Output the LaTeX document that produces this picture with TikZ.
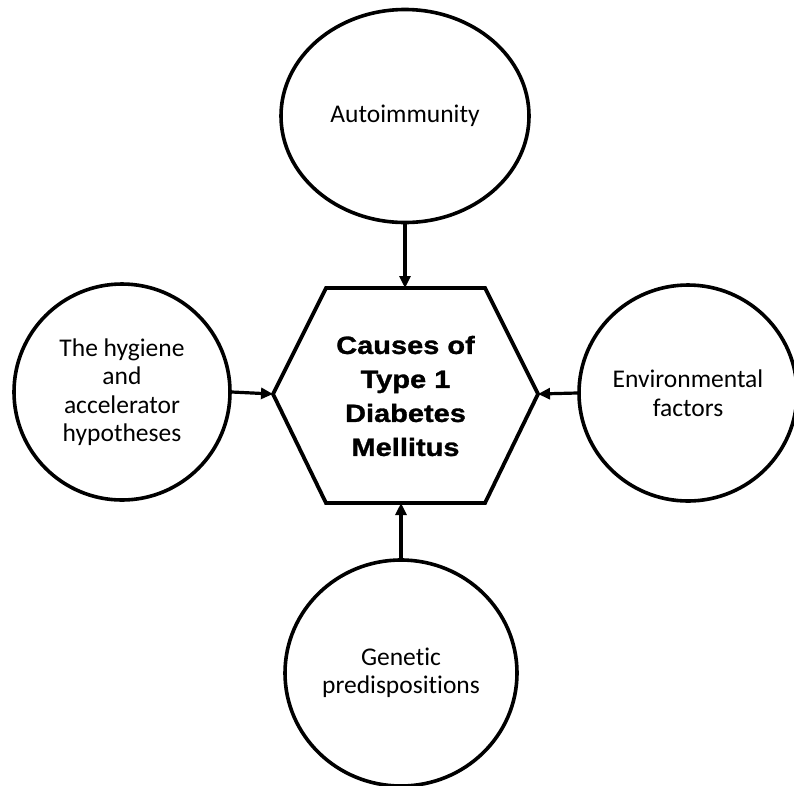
\documentclass[tikz,border=0pt]{standalone}
\usepackage{fontspec}
\setmainfont[Ligatures=NoCommon]{Carlito}
\newfontfamily\headfont[FakeStretch=1.16, FakeBold=1.2]{Liberation Sans Bold}
\usetikzlibrary{shapes.geometric,arrows.meta}

\tikzset{
  cause/.style={draw=black, line width=3.6pt, ellipse, inner sep=0pt,
    align=center, font=\fontsize{25.5}{28.5}\selectfont},
  link/.style={line width=3.2pt, -{Triangle[length=12pt,width=11pt]}},
  hexline/.style={draw=black, line width=3.8pt, line join=miter},
}

\begin{document}
\begin{tikzpicture}[x=1pt, y=-1pt]
  \useasboundingbox (0,0) rectangle (794,785);

  % central hexagon
  \coordinate (hexTL) at (326,288);
  \coordinate (hexTR) at (485,288);
  \coordinate (hexR)  at (538,394);
  \coordinate (hexBR) at (485,503);
  \coordinate (hexBL) at (326,503);
  \coordinate (hexL)  at (273,394);
  \coordinate (hexT)  at (405,288);
  \coordinate (hexB)  at (401,503);
  \draw[hexline] (hexTL) -- (hexTR) -- (hexR) -- (hexBR) -- (hexBL) -- (hexL) -- cycle;
  \node[align=center, font=\headfont\fontsize{25}{34}\selectfont] (hex) at (405.5,396)
    {Causes of\\Type 1\\Diabetes\\Mellitus};

  % surrounding causes
  \node[cause, minimum width=248pt, minimum height=213pt] (auto) at (405,116) {Autoimmunity};
  \node[cause, minimum width=216pt, minimum height=216pt] (hyg) at (122,392)
    {The hygiene\\and\\accelerator\\hypotheses};
  \node[cause, minimum width=218pt, minimum height=216pt] (env) at (688,393)
    {Environmental\\factors};
  \node[cause, minimum width=232pt, minimum height=226pt] (gen) at (401,673)
    {Genetic\\predispositions};

  % arrows into the hexagon
  \draw[link] (auto.south) -- (hexT);
  \draw[link] (hyg.east) -- (hexL);
  \draw[link] (env.west) -- (hexR);
  \draw[link] (gen.north) -- (hexB);
\end{tikzpicture}
\end{document}
